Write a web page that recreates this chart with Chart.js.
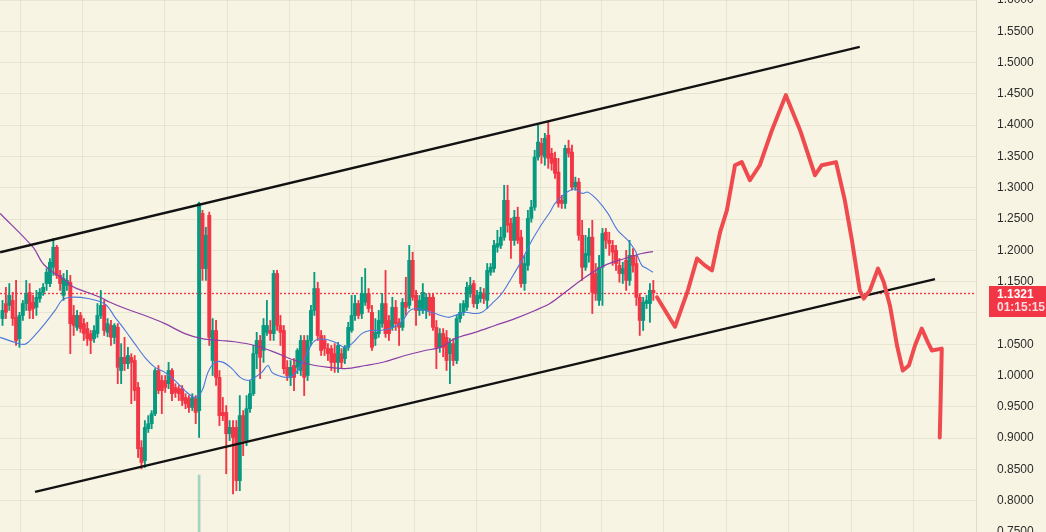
<!DOCTYPE html>
<html>
<head>
<meta charset="utf-8">
<script src="https://cdn.jsdelivr.net/npm/chart.js@4.4.1/dist/chart.umd.min.js"></script>
<style>
  html, body { margin: 0; padding: 0; background: #f8f4e4; }
  #wrap { position: relative; width: 1046px; height: 532px; }
</style>
</head>
<body>
<div id="wrap"><canvas id="chart"></canvas></div>
<script>
// candle data (one entry per bar)
const opens = [1.091,1.115,1.112,1.120,1.093,1.059,1.096,1.115,1.133,1.117,
  1.109,1.123,1.133,1.147,1.147,1.173,1.205,1.160,1.128,1.144,
  1.149,1.096,1.077,1.096,1.083,1.075,1.067,1.059,1.067,1.096,
  1.112,1.069,1.080,1.061,1.077,1.008,1.029,1.019,1.029,1.024,
  0.981,0.885,0.864,0.915,0.923,0.939,1.008,0.992,0.992,0.987,
  1.008,0.981,0.979,0.979,0.965,0.963,0.949,0.963,0.944,1.259,
  1.171,1.256,1.024,1.072,0.997,0.941,0.941,0.907,0.917,0.917,
  0.832,0.936,0.896,0.947,0.971,1.035,1.056,1.040,1.069,1.072,
  1.067,1.163,1.080,1.072,1.013,0.997,1.016,1.013,1.008,1.056,
  1.000,1.056,1.104,1.139,1.064,1.056,1.043,1.043,1.035,1.021,
  1.035,1.027,1.045,1.072,1.096,1.115,1.099,1.117,1.131,1.101,
  1.059,1.067,1.083,1.115,1.088,1.077,1.109,1.085,1.077,1.117,
  1.112,1.184,1.128,1.104,1.104,1.104,1.125,1.125,1.077,1.045,
  1.067,1.061,1.035,1.051,1.024,1.091,1.101,1.109,1.131,1.147,
  1.115,1.123,1.131,1.120,1.165,1.171,1.205,1.208,1.221,1.280,
  1.243,1.216,1.253,1.221,1.147,1.176,1.251,1.269,1.349,1.371,
  1.349,1.384,1.355,1.347,1.325,1.280,1.275,1.363,1.357,1.301,
  1.309,1.224,1.173,1.192,1.221,1.163,1.120,1.173,1.229,1.216,
  1.208,1.200,1.176,1.163,1.184,1.152,1.192,1.179,1.125,1.088,
  1.115,1.115,1.136]
const highs = [1.120,1.141,1.147,1.133,1.152,1.101,1.120,1.152,1.147,1.128,
  1.136,1.139,1.147,1.171,1.187,1.219,1.208,1.168,1.163,1.168,
  1.160,1.112,1.104,1.101,1.091,1.085,1.072,1.080,1.115,1.136,
  1.120,1.091,1.088,1.083,1.083,1.051,1.061,1.045,1.035,1.032,
  0.989,0.896,0.928,0.936,0.944,1.011,1.016,1.000,1.000,1.021,
  1.011,0.987,0.984,0.984,0.971,0.968,0.971,0.968,1.277,1.264,
  1.237,1.261,1.091,1.088,1.008,0.965,0.952,0.928,0.928,0.928,
  0.968,0.944,0.968,0.992,1.048,1.069,1.064,1.091,1.120,1.088,
  1.168,1.168,1.096,1.080,1.024,1.024,1.027,1.043,1.064,1.064,
  1.064,1.112,1.165,1.149,1.072,1.064,1.051,1.048,1.051,1.053,
  1.043,1.048,1.085,1.128,1.128,1.120,1.157,1.171,1.139,1.112,
  1.091,1.104,1.131,1.168,1.096,1.125,1.120,1.091,1.123,1.157,
  1.208,1.197,1.136,1.128,1.147,1.131,1.131,1.131,1.088,1.075,
  1.075,1.072,1.059,1.059,1.096,1.115,1.120,1.149,1.157,1.152,
  1.136,1.141,1.139,1.179,1.179,1.216,1.232,1.237,1.304,1.304,
  1.251,1.264,1.269,1.232,1.192,1.264,1.280,1.360,1.400,1.379,
  1.387,1.405,1.363,1.357,1.347,1.288,1.368,1.376,1.368,1.317,
  1.315,1.248,1.224,1.235,1.248,1.179,1.192,1.235,1.235,1.229,
  1.216,1.208,1.187,1.181,1.200,1.216,1.203,1.192,1.131,1.125,
  1.128,1.147,1.152]
const lows = [1.080,1.091,1.104,1.080,1.048,1.045,1.088,1.104,1.091,1.091,
  1.096,1.117,1.128,1.136,1.142,1.160,1.155,1.136,1.120,1.136,
  1.035,1.064,1.072,1.069,1.056,1.048,1.035,1.053,1.061,1.091,
  1.064,1.062,1.048,1.051,0.987,0.987,1.008,1.011,0.955,0.960,
  0.869,0.851,0.853,0.909,0.915,0.936,0.971,0.939,0.973,0.979,
  0.960,0.965,0.960,0.952,0.947,0.941,0.944,0.923,0.901,1.152,
  1.152,1.048,1.000,0.984,0.920,0.928,0.843,0.896,0.811,0.816,
  0.816,0.872,0.888,0.941,0.968,1.011,0.995,1.021,1.064,1.056,
  1.056,1.072,1.048,1.003,0.992,0.984,0.976,1.003,1.000,0.968,
  0.992,1.048,1.096,1.056,1.032,1.032,1.024,1.008,1.005,1.005,
  1.011,1.019,1.040,1.069,1.088,1.091,1.091,1.112,1.101,1.040,
  1.048,1.061,1.077,1.061,1.056,1.072,1.072,1.048,1.072,1.096,
  1.107,1.120,1.080,1.096,1.099,1.091,1.096,1.072,1.011,1.037,
  1.030,1.008,0.987,1.016,1.019,1.085,1.096,1.104,1.125,1.109,
  1.107,1.117,1.115,1.107,1.160,1.165,1.197,1.203,1.216,1.229,
  1.187,1.208,1.211,1.141,1.136,1.168,1.245,1.264,1.344,1.339,
  1.336,1.331,1.328,1.315,1.269,1.267,1.267,1.349,1.296,1.296,
  1.216,1.152,1.168,1.181,1.099,1.120,1.112,1.112,1.203,1.192,
  1.176,1.168,1.149,1.147,1.136,1.144,1.165,1.112,1.064,1.072,
  1.107,1.085,1.120]
const closes = [1.104,1.101,1.128,1.091,1.056,1.096,1.115,1.131,1.104,1.107,
  1.125,1.133,1.141,1.165,1.181,1.205,1.160,1.147,1.155,1.152,
  1.083,1.080,1.096,1.075,1.067,1.059,1.056,1.072,1.096,1.112,
  1.072,1.083,1.061,1.080,1.013,1.029,1.019,1.032,1.021,0.976,
  0.883,0.861,0.917,0.923,0.939,1.008,0.976,0.976,0.981,1.008,
  0.971,0.973,0.971,0.960,0.955,0.949,0.965,0.941,1.275,1.171,
  1.224,1.061,1.072,0.997,0.936,0.936,0.907,0.917,0.901,0.832,
  0.936,0.896,0.947,0.971,1.035,1.056,1.029,1.080,1.080,1.067,
  1.163,1.080,1.069,1.011,1.000,1.013,0.997,1.040,1.056,0.997,
  1.056,1.104,1.139,1.064,1.040,1.043,1.035,1.021,1.021,1.048,
  1.021,1.045,1.077,1.096,1.115,1.096,1.131,1.131,1.107,1.045,
  1.069,1.088,1.115,1.067,1.067,1.109,1.083,1.077,1.117,1.109,
  1.184,1.125,1.104,1.120,1.133,1.125,1.104,1.077,1.045,1.067,
  1.045,1.024,1.051,1.024,1.091,1.101,1.115,1.141,1.144,1.115,
  1.128,1.133,1.123,1.168,1.173,1.208,1.211,1.221,1.280,1.240,
  1.216,1.253,1.216,1.147,1.179,1.251,1.269,1.349,1.373,1.352,
  1.379,1.347,1.339,1.323,1.275,1.275,1.363,1.355,1.301,1.309,
  1.224,1.173,1.195,1.221,1.133,1.131,1.173,1.227,1.216,1.211,
  1.197,1.179,1.163,1.171,1.152,1.192,1.176,1.125,1.088,1.117,
  1.120,1.136,1.132]

// moving averages: [bar index, price]
const fastMA = [[-0.7,1.061],[3.7,1.053],[6.6,1.050],[9.0,1.061],[12.5,1.083],[15.5,1.104],[17.5,1.120],[19.9,1.125],
  [25.2,1.123],[30.3,1.114],[33.2,1.093],[36.2,1.072],[39.0,1.051],[42.0,1.029],[45.0,1.013],[47.9,1.005],
  [50.9,0.992],[53.8,0.976],[56.8,0.965],[58.9,0.976],[60.6,1.005],[62.7,1.021],[65.1,1.021],[67.7,1.011],
  [70.1,0.997],[72.4,0.992],[74.4,0.997],[76.5,1.005],[78.3,1.016],[79.5,1.005],[81.3,1.000],[83.9,0.997],
  [85.7,1.000],[88.4,1.019],[90.7,1.045],[92.2,1.056],[95.2,1.058],[98.1,1.053],[101.1,1.045],[103.1,1.051],
  [106.0,1.067],[108.4,1.072],[111.3,1.072],[114.3,1.075],[116.4,1.080],[118.1,1.088],[120.2,1.104],[122.3,1.107],
  [124.6,1.104],[127.6,1.099],[131.4,1.093],[133.5,1.096],[136.5,1.101],[139.4,1.099],[141.4,1.101],[144.4,1.115],
  [147.3,1.131],[150.3,1.157],[153.2,1.184],[156.2,1.216],[159.2,1.243],[161.5,1.261],[163.0,1.275],[166.0,1.291],
  [168.9,1.298],[171.0,1.291],[172.7,1.293],[175.6,1.280],[178.6,1.259],[181.5,1.232],[184.5,1.216],[186.6,1.200],
  [188.6,1.176],[190.1,1.171],[191.9,1.165]]
const slowMA = [[-0.7,1.259],[9.0,1.205],[11.9,1.179],[14.9,1.165],[17.8,1.155],[20.8,1.142],[24.9,1.133],[28.8,1.125],
  [31.7,1.117],[36.2,1.107],[42.0,1.096],[47.9,1.083],[53.8,1.067],[58.9,1.059],[64.2,1.056],[68.5,1.054],
  [74.4,1.048],[80.4,1.037],[86.3,1.024],[92.2,1.016],[96.6,1.013],[101.1,1.011],[107.0,1.016],[112.8,1.022],
  [118.7,1.032],[124.6,1.040],[129.1,1.045],[133.5,1.059],[139.4,1.069],[145.3,1.080],[151.2,1.091],[157.1,1.104],
  [161.5,1.115],[166.0,1.133],[171.9,1.157],[177.7,1.176],[183.6,1.187],[188.6,1.195],[191.9,1.198]]

// drawn channel and projected path: [bar index, price]
const channelTop = [[-0.7,1.197],[252.9,1.525]]
const channelBottom = [[9.6,0.814],[275.1,1.154]]
const projection = [[193.1,1.125],[198.4,1.078],[202.2,1.136],[204.9,1.187],[207.2,1.176],[209.3,1.168],
  [211.7,1.229],[213.7,1.264],[216.1,1.336],[218.1,1.341],[220.5,1.312],[223.4,1.336],[227.0,1.392],
  [231.1,1.448],[235.3,1.392],[239.7,1.320],[241.7,1.336],[245.9,1.341],[248.5,1.280],[250.6,1.216],
  [252.9,1.136],[254.1,1.123],[255.9,1.136],[258.3,1.171],[260.0,1.149],[261.8,1.112],[263.9,1.048],
  [265.6,1.008],[267.4,1.016],[269.2,1.048],[271.2,1.075],[273.0,1.053],[274.2,1.040],[277.1,1.043],
  [276.8,0.968],[276.5,0.901]]

const volumeSpike = [[58, 0.75, 0.841]]
const gridTimes = [5.2,23.5,47.9,66.5,84.8,103.1,121.4,139.8,158.6,176.8,195.1,213.7,232.0,250.6,268.9]
const lastPrice = 1.1321
const countdown = '01:15:15'

const UP = '#089981'
const DOWN = '#f23645'
const GRID = 'rgba(120,105,70,0.11)'
const FONT = "'Liberation Sans', Arial, sans-serif"

const toXY = arr => arr.map(([x, y]) => ({ x, y }))
const candleColors = opens.map((o, i) => closes[i] >= o ? UP : DOWN)

const priceTag = {
  id: 'priceTag',
  beforeDatasetsDraw(chart) {
    const { ctx, chartArea, scales: { y } } = chart
    const py = Math.round(y.getPixelForValue(lastPrice)) + 0.5
    ctx.save()
    ctx.strokeStyle = DOWN
    ctx.lineWidth = 1.4
    ctx.setLineDash([2, 2])
    ctx.beginPath()
    ctx.moveTo(chartArea.left, py)
    ctx.lineTo(chartArea.right, py)
    ctx.stroke()
    ctx.restore()
  },
  afterDraw(chart) {
    const { ctx, chartArea, scales: { y } } = chart
    const py = Math.round(y.getPixelForValue(lastPrice))
    const left = chartArea.right + 13
    ctx.save()
    ctx.fillStyle = DOWN
    ctx.fillRect(left, py - 7, chart.width - left, 31)
    ctx.textBaseline = 'middle'
    ctx.textAlign = 'left'
    ctx.font = 'bold 12px ' + FONT
    ctx.fillStyle = '#ffffff'
    ctx.fillText(lastPrice.toFixed(4), left + 8, py + 2)
    ctx.fillStyle = 'rgba(255,255,255,0.82)'
    ctx.fillText(countdown, left + 8, py + 15)
    ctx.restore()
  }
}

new Chart(document.getElementById('chart'), {
  type: 'bar',
  data: {
    datasets: [
      {
        type: 'line', order: 0, data: toXY(projection),
        borderColor: '#ef4b4f', borderWidth: 4, pointRadius: 0, tension: 0,
        borderJoinStyle: 'round', borderCapStyle: 'round'
      },
      {
        type: 'line', order: 0, data: toXY(channelTop),
        borderColor: '#121212', borderWidth: 2.4, pointRadius: 0
      },
      {
        type: 'line', order: 0, data: toXY(channelBottom),
        borderColor: '#121212', borderWidth: 2.4, pointRadius: 0
      },
      {
        type: 'line', order: 1, data: toXY(fastMA),
        borderColor: '#4c78dc', borderWidth: 1.1, pointRadius: 0, tension: 0.35
      },
      {
        type: 'line', order: 1, data: toXY(slowMA),
        borderColor: '#8c3ea6', borderWidth: 1.2, pointRadius: 0, tension: 0.35
      },
      {
        order: 2, grouped: false, barThickness: 3.3, minBarLength: 1.5, borderWidth: 0,
        data: opens.map((o, i) => ({ x: i, y: [o, closes[i]] })),
        backgroundColor: candleColors
      },
      {
        order: 3, grouped: false, barThickness: 1.2, borderWidth: 0,
        data: opens.map((o, i) => ({ x: i, y: [lows[i], highs[i]] })),
        backgroundColor: candleColors
      },
      {
        order: 4, grouped: false, barThickness: 2, borderWidth: 0,
        data: volumeSpike.map(([x, a, b]) => ({ x, y: [a, b] })),
        backgroundColor: 'rgba(8,153,129,0.35)'
      }
    ]
  },
  options: {
    responsive: true,
    maintainAspectRatio: false,
    animation: false,
    events: [],
    layout: { padding: 0 },
    plugins: { legend: { display: false }, tooltip: { enabled: false } },
    scales: {
      x: {
        type: 'linear',
        min: -0.74,
        max: 287.2,
        offset: false,
        afterBuildTicks: s => { s.ticks = gridTimes.map(v => ({ value: v })) },
        afterFit: s => { s.height = 0 },
        ticks: { display: false },
        border: { display: false },
        grid: { color: GRID, drawTicks: false, offset: false }
      },
      y: {
        position: 'right',
        min: 0.75,
        max: 1.6,
        afterFit: s => { s.width = 70; s.paddingTop = 0; s.paddingBottom = 0 },
        ticks: {
          stepSize: 0.05,
          autoSkip: false,
          padding: 21,
          color: '#2b2b2b',
          font: { family: FONT, size: 12 },
          callback: v => Number(v).toFixed(4)
        },
        border: { display: true, color: 'rgba(120,105,70,0.18)' },
        grid: { color: GRID, drawTicks: false }
      }
    }
  },
  plugins: [priceTag]
})
</script>
</body>
</html>
